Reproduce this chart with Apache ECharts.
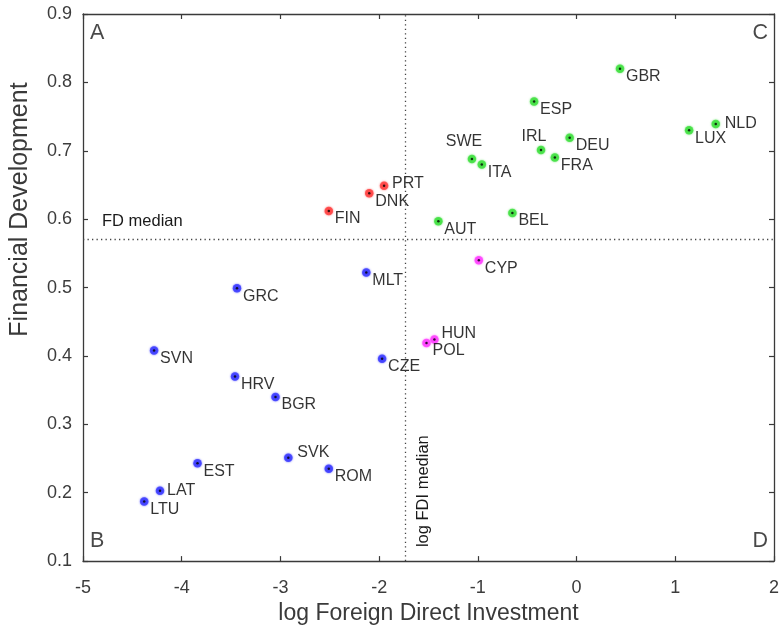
<!DOCTYPE html>
<html>
<head>
<meta charset="utf-8">
<script src="https://cdn.jsdelivr.net/npm/echarts@6/dist/echarts.min.js"></script>
<style>
  html, body { margin: 0; padding: 0; background: #fff; }
  #chart { width: 782px; height: 630px; }
</style>
</head>
<body>
<div id="chart"></div>
<script>
// Country groups: log FDI (x) and financial development (y)
const redNames = ['FIN', 'DNK', 'PRT'];
const redFDI   = [-2.51, -2.10, -1.95];
const redFD    = [0.612, 0.638, 0.649];

const greenNames = ['GBR', 'ESP', 'NLD', 'LUX', 'DEU', 'IRL', 'FRA', 'SWE', 'ITA', 'BEL', 'AUT'];
const greenFDI   = [0.44, -0.43, 1.41, 1.14, -0.07, -0.36, -0.22, -1.06, -0.96, -0.65, -1.40];
const greenFD    = [0.820, 0.772, 0.739, 0.730, 0.719, 0.701, 0.690, 0.688, 0.680, 0.609, 0.597];

const magentaNames = ['CYP', 'HUN', 'POL'];
const magentaFDI   = [-0.99, -1.44, -1.52];
const magentaFD    = [0.540, 0.424, 0.419];

const blueNames = ['GRC', 'MLT', 'SVN', 'HRV', 'BGR', 'CZE', 'SVK', 'ROM', 'EST', 'LAT', 'LTU'];
const blueFDI   = [-3.44, -2.13, -4.28, -3.46, -3.05, -1.97, -2.92, -2.51, -3.84, -4.22, -4.38];
const blueFD    = [0.499, 0.522, 0.408, 0.370, 0.340, 0.396, 0.251, 0.235, 0.243, 0.203, 0.187];

// Medians splitting the plane into quadrants
const fdiMedian = -1.74;
const fdMedian = 0.57;

// Axis ranges and tick steps
const xMin = -5, xMax = 2, xStep = 1;
const yMin = 0.1, yMax = 0.9, yStep = 0.1;

// Label placement: [dx, dy, align] relative to the point centre
const labelPlacement = {
  PRT: [8, -2, 'left'],
  NLD: [9, -1, 'left'],
  HUN: [7, -6, 'left'],
  SVK: [9, -5, 'left'],
  LAT: [7, 0, 'left'],
  SWE: [-8, -17, 'center'],
  IRL: [-7, -13, 'center']
};
const defaultPlacement = [6, 8, 'left'];

const FONT = 'Liberation Sans, Arial, Helvetica, sans-serif';

function buildPoints(names, xs, ys) {
  return names.map((n, i) => {
    const p = labelPlacement[n] || defaultPlacement;
    return {
      name: n,
      value: [xs[i], ys[i]],
      label: { offset: [p[0], p[1]], align: p[2] }
    };
  });
}

function groupSeries(names, xs, ys, color) {
  return [
    {
      type: 'scatter',
      symbol: 'circle',
      symbolSize: 8.5,
      itemStyle: { color: color, shadowBlur: 2, shadowColor: color },
      data: buildPoints(names, xs, ys),
      label: {
        show: true,
        position: 'inside',
        verticalAlign: 'middle',
        formatter: '{b}',
        color: '#000',
        fontSize: 16,
        fontFamily: FONT
      },
      z: 3
    },
    {
      type: 'scatter',
      symbol: 'circle',
      symbolSize: 2.5,
      itemStyle: { color: '#000' },
      data: names.map((n, i) => [xs[i], ys[i]]),
      silent: true,
      z: 4
    }
  ];
}

const axisLine = { show: true, onZero: false, lineStyle: { color: '#3a3a3a', width: 1.3 } };
const axisTick = { show: true, inside: true, length: 5, lineStyle: { color: '#3a3a3a', width: 1.2 } };
const tickLabel = { color: '#3c3c3c', fontSize: 18, fontFamily: FONT };

const chart = echarts.init(document.getElementById('chart'), null, { renderer: 'canvas' });

const series = [
  ...groupSeries(blueNames, blueFDI, blueFD, '#3a3aff'),
  ...groupSeries(redNames, redFDI, redFD, '#ff4040'),
  ...groupSeries(greenNames, greenFDI, greenFD, '#3fe03f'),
  ...groupSeries(magentaNames, magentaFDI, magentaFD, '#ff40ff')
];

// Median reference lines with their captions
series.push({
  type: 'line',
  data: [],
  markLine: {
    silent: true,
    symbol: 'none',
    animation: false,
    lineStyle: { color: '#444', type: [1.3, 3.2], width: 1.3 },
    data: [
      {
        yAxis: fdMedian,
        label: {
          show: true,
          formatter: 'FD median',
          position: 'insideStartTop',
          distance: [19, 10],
          color: '#1a1a1a',
          fontSize: 16.5,
          fontFamily: FONT
        }
      },
      {
        xAxis: fdiMedian,
        label: {
          show: true,
          formatter: 'log FDI median',
          position: 'insideStartBottom',
          distance: [14, 10],
          color: '#1a1a1a',
          fontSize: 16.5,
          fontFamily: FONT
        }
      }
    ]
  }
});

// Quadrant letters in the corners
series.push({
  type: 'scatter',
  symbolSize: 0,
  silent: true,
  data: [
    { value: [xMin, yMax], label: { position: 'inside', align: 'left', verticalAlign: 'top', offset: [7, 8] }, name: 'A' },
    { value: [xMin, yMin], label: { position: 'inside', align: 'left', verticalAlign: 'bottom', offset: [7, -9] }, name: 'B' },
    { value: [xMax, yMax], label: { position: 'inside', align: 'right', verticalAlign: 'top', offset: [-6, 8] }, name: 'C' },
    { value: [xMax, yMin], label: { position: 'inside', align: 'right', verticalAlign: 'bottom', offset: [-6, -9] }, name: 'D' }
  ],
  label: { show: true, formatter: '{b}', color: '#1a1a1a', fontSize: 21.5, fontFamily: FONT },
  z: 5
});

chart.setOption({
  animation: false,
  backgroundColor: '#ffffff',
  grid: { left: 82, right: 6, top: 14, bottom: 68, containLabel: false },
  xAxis: [
    {
      type: 'value', min: xMin, max: xMax, interval: xStep,
      name: 'log Foreign Direct Investment',
      nameLocation: 'middle', nameGap: 31,
      nameTextStyle: { color: '#3a3a3a', fontSize: 23, fontFamily: FONT },
      axisLine: axisLine, axisTick: axisTick,
      axisLabel: Object.assign({ margin: 18 }, tickLabel),
      splitLine: { show: false }
    },
    {
      type: 'value', min: xMin, max: xMax, interval: xStep, position: 'top',
      axisLine: axisLine, axisTick: axisTick,
      axisLabel: { show: false }, splitLine: { show: false }
    }
  ],
  yAxis: [
    {
      type: 'value', min: yMin, max: yMax, interval: yStep,
      name: 'Financial Development',
      nameLocation: 'middle', nameGap: 50,
      nameTextStyle: { color: '#3a3a3a', fontSize: 25, fontFamily: FONT, padding: [0, 0, 0, 156] },
      axisLine: axisLine, axisTick: axisTick,
      axisLabel: Object.assign({ margin: 11, formatter: v => v.toFixed(1) }, tickLabel),
      splitLine: { show: false }
    },
    {
      type: 'value', min: yMin, max: yMax, interval: yStep, position: 'right',
      axisLine: axisLine, axisTick: axisTick,
      axisLabel: { show: false }, splitLine: { show: false }
    }
  ],
  series: series
});
</script>
</body>
</html>
